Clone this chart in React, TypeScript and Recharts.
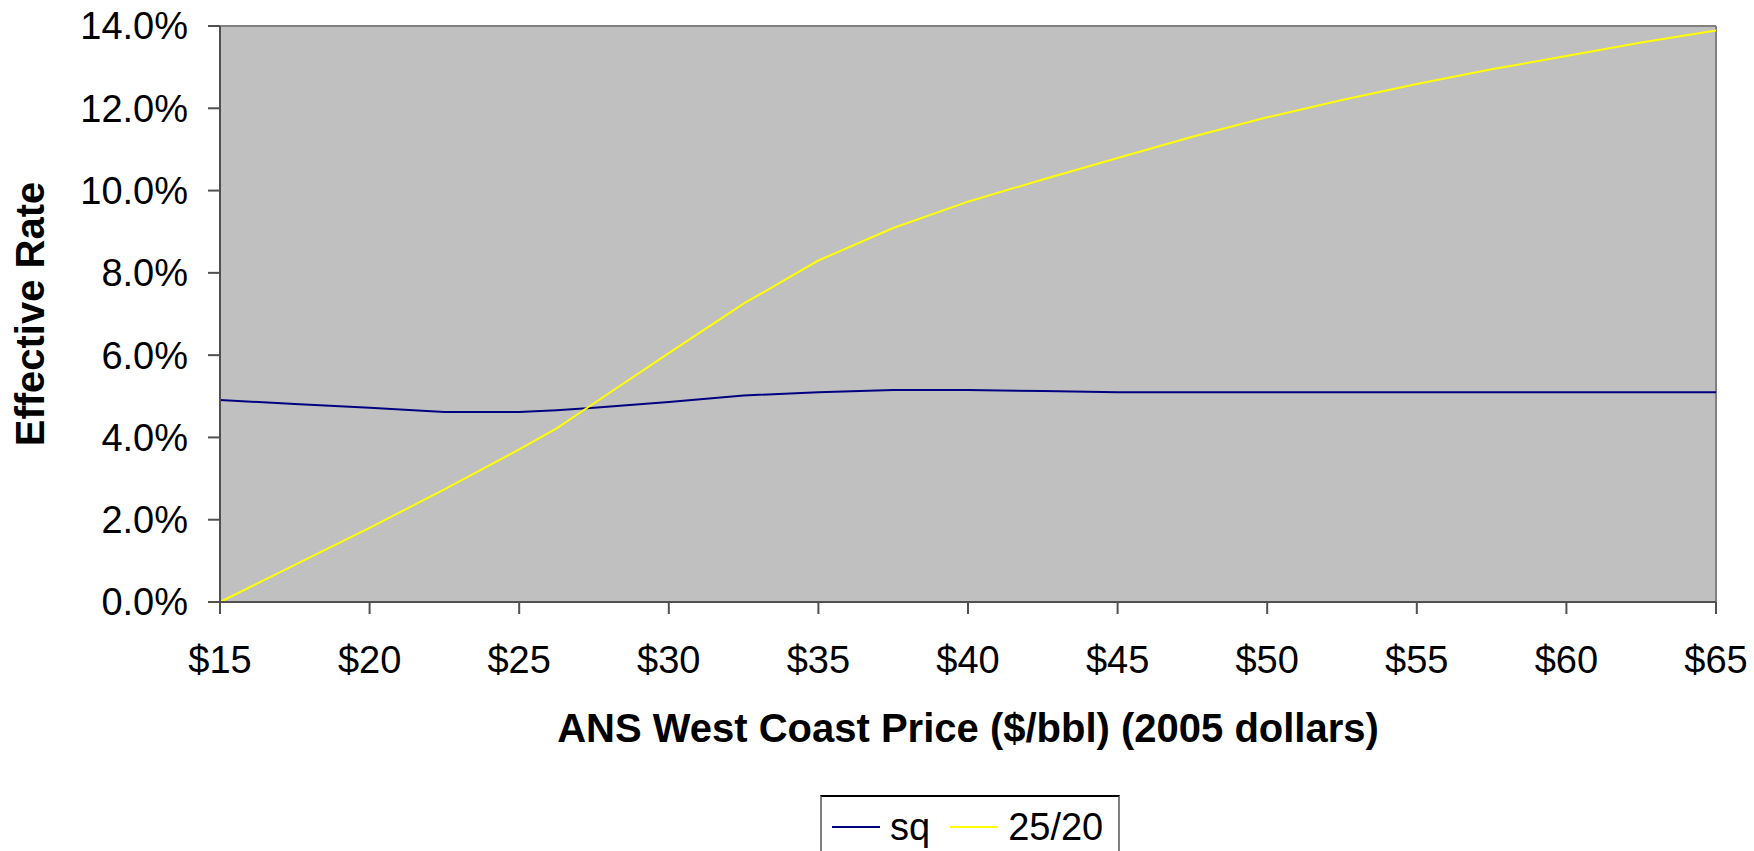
import { CartesianGrid, Legend, Line, LineChart, ReferenceLine, XAxis, YAxis } from 'recharts'

// ANS West Coast price, $/bbl (2005 dollars)
const prices = [15, 17.5, 20, 22.5, 25, 26.25, 27.5, 30, 32.5, 35, 37.5, 40, 42.5, 45, 47.5, 50, 52.5, 55, 57.5, 60, 62.5, 65]

// effective rate, percent
const sqRates = [4.91, 4.81, 4.72, 4.62, 4.62, 4.66, 4.72, 4.86, 5.02, 5.1, 5.15, 5.15, 5.13, 5.1, 5.1, 5.1, 5.1, 5.1, 5.1, 5.1, 5.1, 5.1]
const rates2520 = [0, 0.9, 1.8, 2.74, 3.71, 4.22, 4.83, 6.05, 7.25, 8.3, 9.09, 9.73, 10.27, 10.79, 11.31, 11.78, 12.2, 12.59, 12.95, 13.27, 13.6, 13.89]

const priceTicks = [15, 20, 25, 30, 35, 40, 45, 50, 55, 60, 65]
const rateTicks = [0, 2, 4, 6, 8, 10, 12, 14]
const seriesOrder = ['sq', '25/20']

const FONT = '"Liberation Sans", Arial, sans-serif'
const AXIS_COLOR = '#505050'
const BORDER_COLOR = '#808080'

const chartData = prices.map((price, i) => ({
  price,
  sq: sqRates[i],
  r2520: rates2520[i],
}))

type LegendEntry = { value: string; color: string }

function LegendBox({ payload }: { payload?: LegendEntry[] }) {
  const items = [...(payload ?? [])].sort(
    (a, b) => seriesOrder.indexOf(a.value) - seriesOrder.indexOf(b.value),
  )
  return (
    <div
      style={{
        boxSizing: 'border-box',
        width: 300,
        height: 70,
        background: '#fff',
        borderTop: '2px solid #000',
        borderLeft: `2px solid ${BORDER_COLOR}`,
        borderRight: `2px solid ${BORDER_COLOR}`,
        display: 'flex',
        alignItems: 'flex-start',
        paddingLeft: 10,
        paddingTop: 8,
        fontFamily: FONT,
        fontSize: 38,
        color: '#000',
      }}
    >
      {items.map((entry) => (
        <div key={entry.value} style={{ display: 'flex', alignItems: 'center', marginRight: 20 }}>
          <span style={{ display: 'inline-block', width: 48, height: 2, background: entry.color, marginRight: 10 }} />
          <span style={{ lineHeight: '44px' }}>{entry.value}</span>
        </div>
      ))}
    </div>
  )
}

export default function App() {
  return (
    <div
      style={{
        position: 'absolute',
        left: 0,
        top: 0,
        width: 1754,
        height: 851,
        overflow: 'hidden',
        background: '#fff',
        fontFamily: FONT,
      }}
    >
      <LineChart
        width={1754}
        height={851}
        data={chartData}
        margin={{ top: 26, right: 38, left: 0, bottom: 149 }}
      >
        <CartesianGrid fill="#C0C0C0" horizontal={false} vertical={false} />
        <XAxis
          dataKey="price"
          type="number"
          domain={[15, 65]}
          ticks={priceTicks}
          tickFormatter={(v) => `$${v}`}
          height={100}
          tickSize={12}
          tickMargin={32}
          tick={{ fill: '#000', fontSize: 38 }}
          stroke={AXIS_COLOR}
          strokeWidth={2}
          label={{
            content: () => (
              <text x={968} y={742} textAnchor="middle" fontSize={40} fontWeight="bold" fill="#000">
                ANS West Coast Price ($/bbl) (2005 dollars)
              </text>
            ),
          }}
        />
        <YAxis
          type="number"
          domain={[0, 14]}
          ticks={rateTicks}
          tickFormatter={(v) => `${v.toFixed(1)}%`}
          width={220}
          tickSize={12}
          tickMargin={20}
          tick={{ fill: '#000', fontSize: 38 }}
          stroke={AXIS_COLOR}
          strokeWidth={2}
          label={{
            content: () => (
              <text
                x={30}
                y={314}
                transform="rotate(-90 30 314)"
                textAnchor="middle"
                dominantBaseline="central"
                fontSize={40}
                fontWeight="bold"
                fill="#000"
              >
                Effective Rate
              </text>
            ),
          }}
        />
        <ReferenceLine y={14} stroke={BORDER_COLOR} strokeWidth={2} />
        <ReferenceLine x={65} stroke={BORDER_COLOR} strokeWidth={2} />
        <Line
          type="linear"
          dataKey="sq"
          name="sq"
          stroke="#000080"
          strokeWidth={2}
          dot={false}
          isAnimationActive={false}
        />
        <Line
          type="linear"
          dataKey="r2520"
          name="25/20"
          stroke="#FFFF00"
          strokeWidth={2}
          dot={false}
          isAnimationActive={false}
        />
        <Legend
          layout="horizontal"
          align="center"
          verticalAlign="middle"
          wrapperStyle={{ left: 820, top: 795, width: 300, height: 70 }}
          content={(props) => <LegendBox payload={props.payload as any} />}
        />
      </LineChart>
    </div>
  )
}
